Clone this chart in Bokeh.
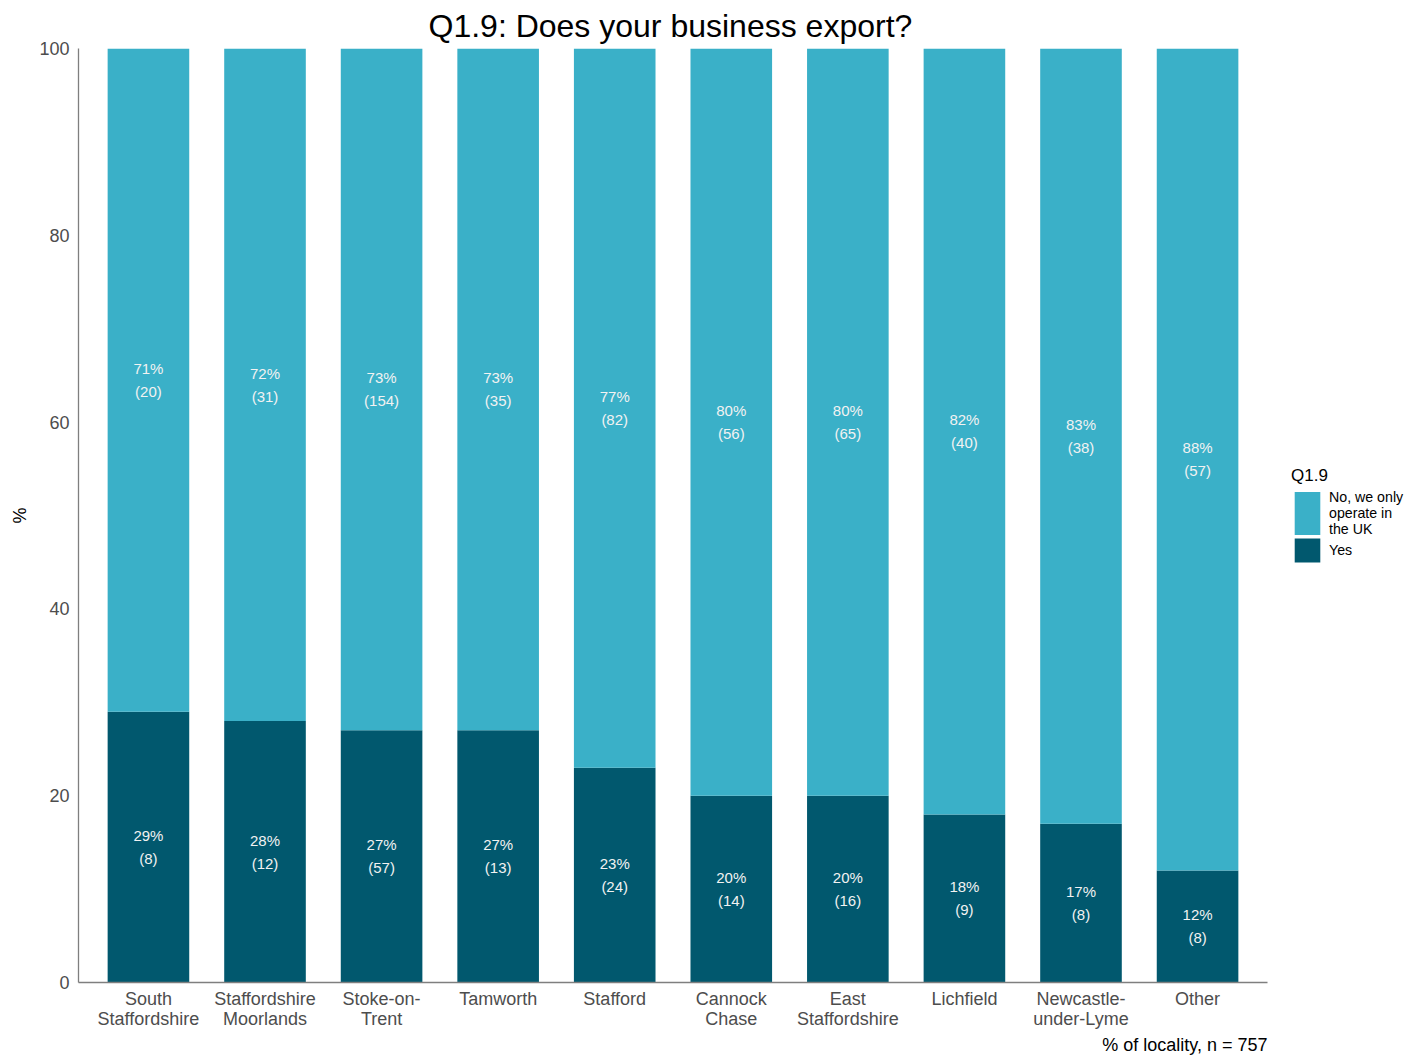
from bokeh.plotting import figure
from bokeh.models import ColumnDataSource, Range1d, Legend, LegendItem, Title, FixedTicker
from bokeh.core.properties import value
from bokeh.embed import file_html
from bokeh.resources import INLINE

localities = ["South\nStaffordshire", "Staffordshire\nMoorlands", "Stoke-on-\nTrent", "Tamworth",
              "Stafford", "Cannock\nChase", "East\nStaffordshire", "Lichfield",
              "Newcastle-\nunder-Lyme", "Other"]
yes_pct = [29, 28, 27, 27, 23, 20, 20, 18, 17, 12]
no_pct = [71, 72, 73, 73, 77, 80, 80, 82, 83, 88]
yes_n = [8, 12, 57, 13, 24, 14, 16, 9, 8, 8]
no_n = [20, 31, 154, 35, 82, 56, 65, 40, 38, 57]
y_ticks = [0, 20, 40, 60, 80, 100]

LIGHT = "#3AB0C8"
DARK = "#01586E"
FONT = "Liberation Sans"

n = len(localities)
xi = list(range(n))
PAD = 0.6                      # half-slot padding either side of the bars
PX_PER_UNIT = 1189 / (n - 1 + 2 * PAD)
FRAME_W = 1327                 # plot frame incl. room for the legend on the right
x_end = -PAD + FRAME_W / PX_PER_UNIT

src = ColumnDataSource(dict(
    x=xi,
    yes=yes_pct,
    no=no_pct,
    yes_mid=[y / 2 for y in yes_pct],
    no_mid=[y + v / 2 for y, v in zip(yes_pct, no_pct)],
    yes_lbl=[f"{v}%" for v in yes_pct],
    no_lbl=[f"{v}%" for v in no_pct],
    yes_cnt=[f"({v})" for v in yes_n],
    no_cnt=[f"({v})" for v in no_n],
))

p = figure(x_range=Range1d(-PAD, x_end), y_range=Range1d(0, 100),
           frame_width=FRAME_W, frame_height=934,
           output_backend="svg", toolbar_location=None,
           min_border_left=78, min_border_right=0, min_border_top=48, min_border_bottom=72)

p.title.text = "Q1.9: Does your business export?"
p.title.text_font = FONT
p.title.text_font_size = "32px"
p.title.text_font_style = "normal"
p.title.text_color = "#000000"
p.title.align = "left"
p.title.offset = 350
p.title.standoff = 10

rs = p.vbar_stack(["yes", "no"], x="x", width=0.7, color=[DARK, LIGHT],
                  line_color=None, source=src)
r_yes, r_no = rs

for ycol, lcol, ccol in [("yes_mid", "yes_lbl", "yes_cnt"), ("no_mid", "no_lbl", "no_cnt")]:
    p.text(x="x", y=ycol, text=lcol, y_offset=-11.5, source=src,
           text_align="center", text_baseline="middle", text_color="#F2F2F2",
           text_font=value(FONT), text_font_size="15px")
    p.text(x="x", y=ycol, text=ccol, y_offset=11.5, source=src,
           text_align="center", text_baseline="middle", text_color="#F2F2F2",
           text_font=value(FONT), text_font_size="15px")

p.xgrid.visible = False
p.ygrid.visible = False
p.outline_line_color = None

for ax in (p.xaxis[0], p.yaxis[0]):
    ax.axis_line_color = "#7F7F7F"
    ax.axis_line_width = 1.3
    ax.major_tick_line_color = None
    ax.minor_tick_line_color = None
    ax.major_tick_out = 0
    ax.major_tick_in = 0
    ax.major_label_text_font = FONT
    ax.major_label_text_font_size = "18px"
    ax.major_label_text_color = "#4D4D4D"

p.xaxis.ticker = FixedTicker(ticks=xi)
p.xaxis.major_label_overrides = {i: name for i, name in zip(xi, localities)}
p.xaxis.bounds = (-PAD, n - 1 + PAD)
p.xaxis.major_label_standoff = 6
p.xaxis.major_label_text_line_height = 1.0

p.yaxis.ticker = FixedTicker(ticks=y_ticks)
p.yaxis.major_label_standoff = 9
p.yaxis.axis_label = "%"
p.yaxis.axis_label_text_font = FONT
p.yaxis.axis_label_text_font_size = "18px"
p.yaxis.axis_label_text_font_style = "normal"
p.yaxis.axis_label_text_color = "#000000"
p.yaxis.axis_label_standoff = 6

xlab = Title(text="% of locality, n = 757", align="right", text_font=FONT,
             text_font_size="18px", text_font_style="normal", text_color="#000000",
             standoff=3, offset=FRAME_W - 1189)
p.add_layout(xlab, "below")


def style_legend(lg):
    lg.title_text_font = FONT
    lg.title_text_font_size = "17px"
    lg.title_text_font_style = "normal"
    lg.title_text_color = "#000000"
    lg.label_text_font = FONT
    lg.label_text_font_size = "14.2px"
    lg.label_text_color = "#000000"
    lg.label_text_line_height = 1.02
    lg.glyph_width = 32
    lg.label_standoff = 6
    lg.spacing = 0
    lg.padding = 0
    lg.margin = 0
    lg.border_line_color = None
    lg.background_fill_alpha = 0


legend_no = Legend(items=[LegendItem(label="No, we only\noperate in\nthe UK", renderers=[r_no])],
                   title="Q1.9", location=(1213, 442))
style_legend(legend_no)
legend_no.glyph_height = 54
legend_no.title_standoff = -5
p.add_layout(legend_no, "center")

legend_yes = Legend(items=[LegendItem(label="Yes", renderers=[r_yes])],
                    location=(1213, 417))
style_legend(legend_yes)
legend_yes.glyph_height = 30
p.add_layout(legend_yes, "center")

open("out.html", "w").write(file_html(p, INLINE))
